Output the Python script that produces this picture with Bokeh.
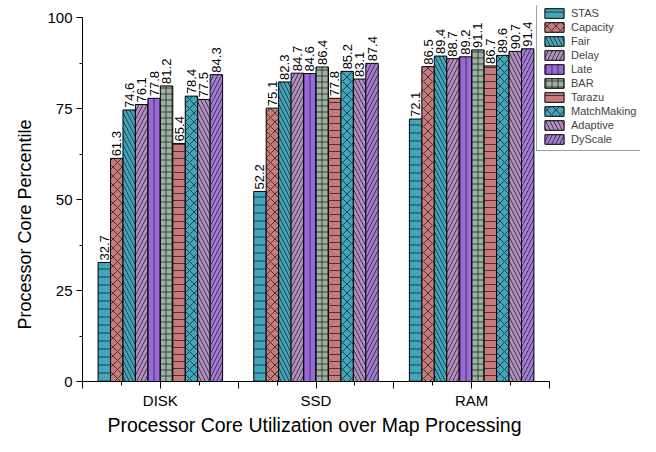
import math
from bokeh.plotting import figure
from bokeh.models import ColumnDataSource, FixedTicker, Legend, LegendItem, Range1d, Title
from bokeh.transform import dodge
from bokeh.embed import file_html
from bokeh.resources import INLINE
from bokeh.core.properties import value

# ---- data ----
groups = ["DISK", "SSD", "RAM"]
group_pos = [1, 2, 3]
series = ["STAS", "Capacity", "Fair", "Delay", "Late", "BAR", "Tarazu",
          "MatchMaking", "Adaptive", "DyScale"]
STAS = [32.7, 52.2, 72.1]
Capacity = [61.3, 75.1, 86.5]
Fair = [74.6, 82.3, 89.4]
Delay = [76.1, 84.7, 88.7]
Late = [77.8, 84.6, 89.2]
BAR = [81.2, 86.4, 91.1]
Tarazu = [65.4, 77.8, 86.7]
MatchMaking = [78.4, 85.2, 89.6]
Adaptive = [77.5, 83.1, 90.7]
DyScale = [84.3, 87.4, 91.4]
values = [STAS, Capacity, Fair, Delay, Late, BAR, Tarazu, MatchMaking, Adaptive, DyScale]

y_ticks = [0, 25, 50, 75, 100]
y_minor = [12.5, 37.5, 62.5, 87.5]
x_ticks = [0.5, 1, 1.5, 2, 2.5, 3, 3.5]
x_minor = [0.75, 1.25, 1.75, 2.25, 2.75, 3.25]

# ---- styles ----
teal = "#3FA6BE"
rose = "#C87A7A"
mauve = "#B28EC3"
purple = "#9A68DC"
purple2 = "#A47ADA"
grey = "#9CB2A2"
colors = [teal, rose, teal, mauve, purple, grey, rose, teal, mauve, purple2]
hatches = ["horizontal_line", "diagonal_cross", "left_diagonal_line", "right_diagonal_line",
           "vertical_line", "cross", "horizontal_line", "diagonal_cross",
           "left_diagonal_line", "right_diagonal_line"]
hscales = [8, 9, 8, 8, 6, 6, 7, 9, 8, 8]

FONT = "Liberation Sans"
bar_w = 0.08

# frame: left 82, right 640 (axis itself bounded to 0.5..3.5 -> 82..549)
# vertical: frame 5..381, with y=100 at pixel 17
x_end = 3.5 + 91 * 3.0 / 467.0
y_end = 100.0 * 376.0 / 364.0

p = figure(width=640, height=436, output_backend="svg", toolbar_location=None,
           x_range=Range1d(0.5, x_end), y_range=Range1d(0, y_end),
           min_border_left=82, min_border_right=0, min_border_top=5, min_border_bottom=55)
p.outline_line_color = None
p.xgrid.grid_line_color = None
p.ygrid.grid_line_color = None
p.background_fill_color = "white"

items = []
for i, (name, vals) in enumerate(zip(series, values)):
    off = (i - 4.5) * bar_w
    src = ColumnDataSource(dict(x=group_pos, top=vals, label=[f"{v:.1f}" for v in vals]))
    r = p.vbar(x=dodge("x", off, range=p.x_range), top="top", width=bar_w, source=src,
               fill_color=colors[i], line_color="black", line_width=1,
               hatch_pattern=hatches[i], hatch_color="#2a2a2a", hatch_scale=hscales[i],
               hatch_weight=1, hatch_alpha=0.85)
    p.text(x=dodge("x", off, range=p.x_range), y="top", text="label", source=src,
           angle=math.pi / 2, text_align="left", text_baseline="middle",
           y_offset=-2, text_font=value(FONT), text_font_size="13px", text_color="black",
           background_fill_color="white")
    items.append(LegendItem(label=name, renderers=[r]))

legend = Legend(items=items, location=(454, 230), glyph_width=24, glyph_height=12,
                label_height=12, spacing=2, padding=5, margin=0, label_standoff=5,
                label_text_font=FONT, label_text_font_size="11px",
                border_line_color="#444444", border_line_width=1,
                background_fill_color="white", background_fill_alpha=1)
p.add_layout(legend)

# x axis
xa = p.xaxis[0]
xa.bounds = (0.5, 3.5)
xa.ticker = FixedTicker(ticks=x_ticks, minor_ticks=x_minor)
xa.major_label_overrides = {0.5: "", 1: groups[0], 1.5: "", 2: groups[1], 2.5: "",
                            3: groups[2], 3.5: ""}
xa.major_tick_out = 7
xa.major_tick_in = 0
xa.minor_tick_out = 4
xa.minor_tick_in = 0
xa.major_label_standoff = 3

# y axis
ya = p.yaxis[0]
ya.bounds = (0, 100)
ya.ticker = FixedTicker(ticks=y_ticks, minor_ticks=y_minor)
ya.major_tick_out = 6
ya.major_tick_in = 0
ya.minor_tick_out = 3
ya.minor_tick_in = 0
ya.major_label_standoff = 4

for ax in (xa, ya):
    ax.axis_line_color = "black"
    ax.axis_line_width = 1
    ax.major_tick_line_color = "black"
    ax.minor_tick_line_color = "black"
    ax.major_label_text_font = FONT
    ax.major_label_text_font_size = "15px"
    ax.major_label_text_color = "black"

xtitle = Title(text="Processor Core Utilization over Map Processing", align="left",
               offset=25, standoff=1, text_font=FONT, text_font_size="19.5px",
               text_font_style="normal", text_color="black")
p.add_layout(xtitle, "below")
ytitle = Title(text="Processor Core Percentile", align="left", offset=52, standoff=20,
               text_font=FONT, text_font_size="18px", text_font_style="normal",
               text_color="black")
p.add_layout(ytitle, "left")

open("out.html", "w").write(file_html(p, INLINE))
